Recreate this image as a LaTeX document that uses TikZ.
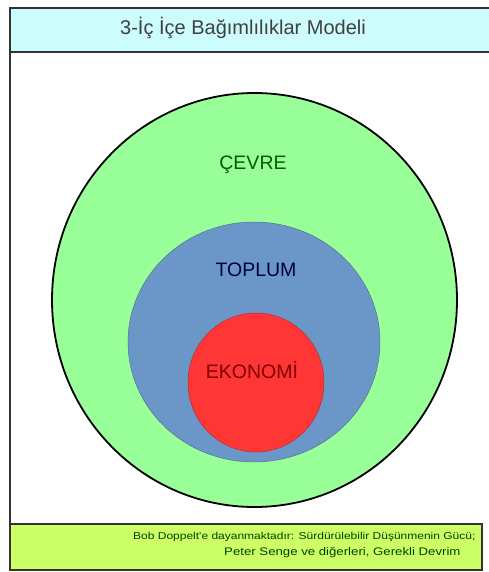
\documentclass[tikz,border=0pt]{standalone}
\usepackage{fontspec}
\setmainfont{Liberation Sans}
\newfontfamily\widesans[FakeStretch=1.2]{Liberation Sans}
\usetikzlibrary{shapes.geometric}
\definecolor{titlecyan}{HTML}{CCFCFC}
\definecolor{envgreen}{HTML}{99FF99}
\definecolor{socblue}{HTML}{6B96C8}
\definecolor{ecored}{HTML}{FF3636}
\definecolor{notelime}{HTML}{CCFF66}
\begin{document}
\begin{tikzpicture}
		[x=1pt,y=-1pt, ring/.style={ellipse, draw, inner sep=0}, lbl/.style={font=\fontsize{19.5}{22}\selectfont}, bar/.style={draw=black!80, line width=1.6pt}, note/.style={anchor=east, text=green!25!black}]
		\useasboundingbox (0,0) rectangle (488,572);
		\fill[white] (0,0) rectangle (488,572);
		\draw[bar, fill=titlecyan] (10,8) rectangle (492,52);
		\draw[bar] (10,52) -- (10,524);
		\draw[bar, fill=notelime] (10,524) rectangle (482,570);
		\node[ring, fill=envgreen, line width=1.8pt, minimum width=405, minimum height=414] (cevre) at (254.5,300) {};
		\node[ring, fill=socblue, draw=socblue!70!black, minimum width=252, minimum height=240] (toplum) at (254,342) {};
		\node[ring, fill=ecored, draw=ecored!70!black, minimum width=136, minimum height=139] (ekonomi) at (256,382.5) {};
		\node[font=\fontsize{20}{24}\selectfont, text=black!75] (baslik) at (243,28) {3-İç İçe Bağımlılıklar Modeli};
		\node[lbl, text=green!35!black] (cevreyazi) at (253,165) {ÇEVRE};
		\node[lbl, text=blue!25!black] (toplumyazi) at (256,270) {TOPLUM};
		\node[lbl, text=red!50!black] (ekonomiyazi) at (252,370) {EKONOMİ};
		\node[note, font=\widesans\fontsize{10}{12}\selectfont] (kaynak1) at (479,537)
			{Bob Doppelt'e dayanmaktadır: Sürdürülebilir Düşünmenin Gücü;};
		\node[note, font=\widesans\fontsize{11}{13}\selectfont] (kaynak2) at (464,553)
			{Peter Senge ve diğerleri, Gerekli Devrim};
	\end{tikzpicture}
\end{document}
